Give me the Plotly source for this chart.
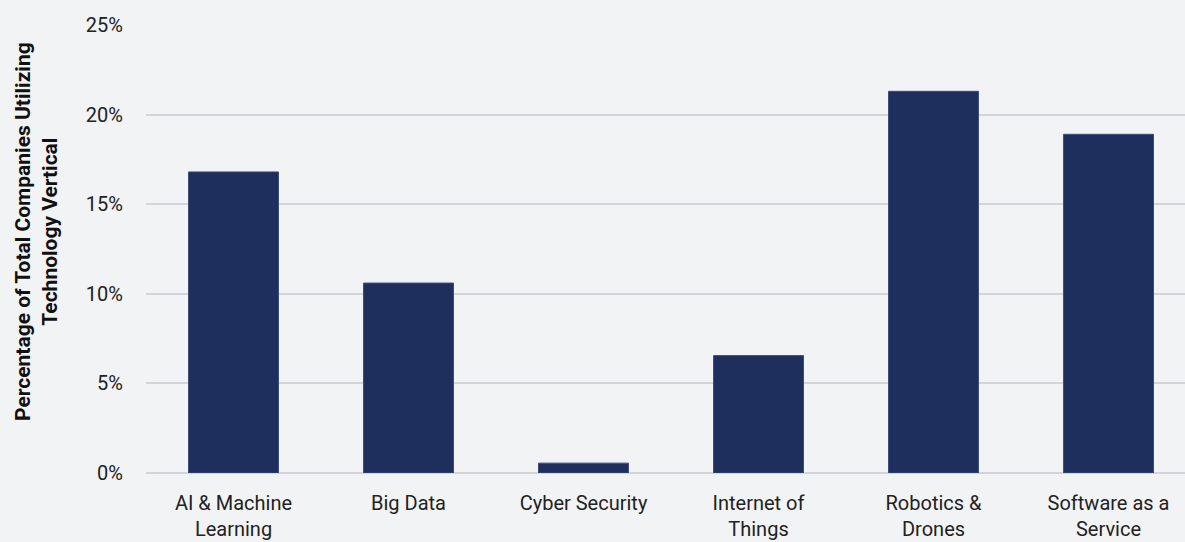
import plotly.graph_objects as go

categories = ["AI & Machine<br>Learning", "Big Data", "Cyber Security", "Internet of<br>Things",
              "Robotics &<br>Drones", "Software as a<br>Service"]
values = [16.8, 10.6, 0.55, 6.55, 21.3, 18.9]
y_ticks = [0, 5, 10, 15, 20, 25]
y_tick_labels = ["0%", "5%", "10%", "15%", "20%", "25%"]

BG = "#f2f3f5"
BAR = "#1e2f5e"

fig = go.Figure(go.Bar(
    x=categories, y=values,
    marker=dict(color=BAR, line=dict(color="#3d4d78", width=1)),
    hoverinfo="skip",
))

fig.update_layout(
    width=1185, height=542,
    paper_bgcolor=BG, plot_bgcolor=BG,
    margin=dict(l=146, r=0, t=25, b=69),
    bargap=0.486,
    showlegend=False,
    font=dict(family="Roboto, sans-serif", size=20, color="#222222"),
    xaxis=dict(showgrid=False, showline=False, ticks="", ticklabelstandoff=16,
               range=[-0.5, 5.437],
               tickfont=dict(size=20, color="#222222")),
    yaxis=dict(range=[0, 25], tickvals=y_ticks, ticktext=y_tick_labels,
               showgrid=True, gridcolor="#d2d4d8", gridwidth=2,
               zeroline=True, zerolinecolor="#d2d4d8", zerolinewidth=2,
               showline=False, ticks="", ticklabelstandoff=22,
               tickfont=dict(size=20, color="#222222")),
    annotations=[dict(
        text="<b>Percentage of Total Companies Utilizing<br>Technology Vertical</b>",
        textangle=-90, xref="paper", yref="paper", x=-0.106, y=0.54,
        xanchor="center", yanchor="middle", showarrow=False,
        font=dict(family="Roboto, sans-serif", size=21, color="#111111"),
    )],
)

fig.write_html("out.html", config={"displayModeBar": False},
               post_script="document.body.style.margin='0';document.body.style.background='" + BG + "';")
